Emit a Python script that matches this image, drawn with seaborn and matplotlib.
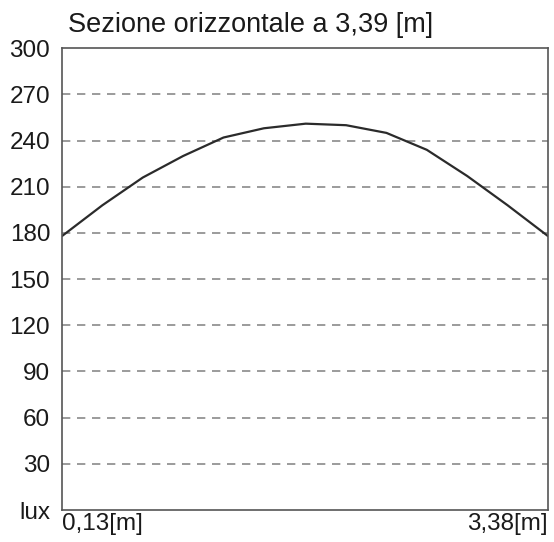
import matplotlib
matplotlib.use("Agg")
import matplotlib.pyplot as plt
import seaborn as sns
import pandas as pd

# Data
positions_m = [0.13, 0.40, 0.67, 0.94, 1.21, 1.48, 1.76, 2.03, 2.30, 2.57, 2.84, 3.11, 3.38]
illuminance_lux = [178, 198, 216, 230, 242, 248, 251, 250, 245, 234, 217, 198, 178]
y_ticks = [0, 30, 60, 90, 120, 150, 180, 210, 240, 270, 300]
y_tick_labels = ["lux", "30", "60", "90", "120", "150", "180", "210", "240", "270", "300"]
x_ticks = [0.13, 3.38]
x_tick_labels = ["0,13[m]", "3,38[m]"]
title = "Sezione orizzontale a 3,39 [m]"

sns.set_theme(style="white")
plt.rcParams["font.family"] = ["Liberation Sans", "DejaVu Sans"]

fig = plt.figure(figsize=(5.54, 5.42), dpi=100)
ax = fig.add_axes([0.112, 0.059, 0.877, 0.852])

df = pd.DataFrame({"x": positions_m, "y": illuminance_lux})
sns.lineplot(data=df, x="x", y="y", ax=ax, color="#2b2b2b", linewidth=1.6)

for v in y_ticks[1:-1]:
    ax.axhline(v, color="#8a8a8a", linestyle=(0, (5, 4)), linewidth=1.2, zorder=0)

ax.set_xlim(0.13, 3.38)
ax.set_ylim(0, 300)
ax.set_yticks(y_ticks)
ax.set_yticklabels(y_tick_labels, fontsize=17.5, color="#1a1a1a")
ax.set_xticks(x_ticks)
ax.set_xticklabels(x_tick_labels, fontsize=17.5, color="#1a1a1a")
xl = ax.get_xticklabels()
xl[0].set_ha("left")
xl[1].set_ha("right")
ax.tick_params(axis="both", length=0)
ax.tick_params(axis="y", pad=8.5)
ax.tick_params(axis="x", pad=2.5)
ax.set_xlabel("")
ax.set_ylabel("")
for s in ax.spines.values():
    s.set_visible(True)
    s.set_color("#555555")
    s.set_linewidth(1.2)

fig.text(68 / 554, 1 - 32 / 542, title, fontsize=19.5, color="#1a1a1a", ha="left", va="baseline")

fig.savefig("out.png", dpi=100)
